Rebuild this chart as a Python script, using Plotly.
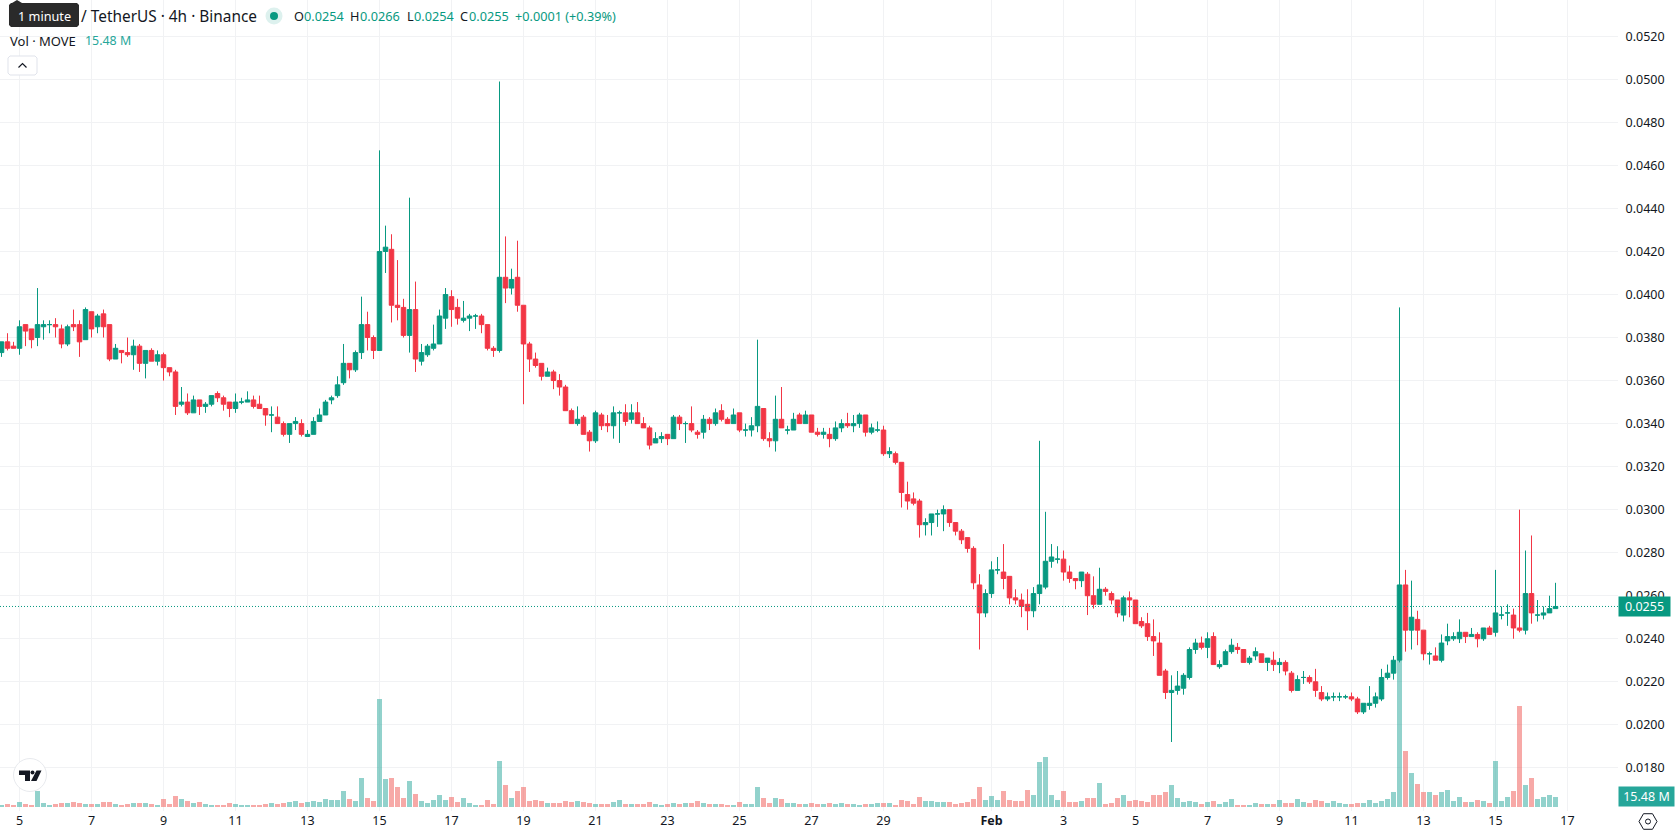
import numpy as np
import pandas as pd
import plotly.graph_objects as go

# Four-hour candles, Jan 4 12:00 to Feb 16 16:00, prices in ticks of 0.0001
TICK = 0.0001
open_ticks = [
    373,378,376,375,386,384,380,385,386,386,
    384,377,386,386,379,392,385,391,386,370,
    374,373,372,376,368,374,369,372,366,364,
    349,350,345,351,348,349,354,352,350,347,
    350,350,351,349,347,344,343,340,335,340,
    340,334,335,341,344,351,353,359,368,365,
    373,386,380,374,420,421,395,394,381,393,
    369,372,375,377,389,399,394,388,389,390,
    390,386,375,374,408,403,408,395,377,370,
    368,362,364,360,357,346,340,343,336,332,
    344,340,339,345,345,342,345,340,338,331,
    333,335,333,343,340,340,336,336,342,340,
    346,342,340,345,337,337,339,347,333,332,
    342,337,337,344,340,344,336,335,335,333,
    338,340,339,340,344,336,337,337,326,326,
    322,307,305,304,293,294,298,298,300,294,
    290,287,282,265,252,261,272,271,269,259,
    258,256,253,261,264,276,277,277,271,268,
    267,270,260,256,263,261,258,251,259,258,
    248,247,241,238,225,215,216,217,222,235,
    238,236,241,227,228,234,236,235,229,232,
    233,229,230,228,229,224,216,222,222,220,
    215,212,213,213,213,213,212,206,209,210,
    212,222,224,230,265,244,249,244,233,232,
    230,239,240,240,243,241,242,240,245,243,
    251,252,251,245,244,261,251,251,252,254,
]
close_ticks = [
    378,375,375,385,383,379,386,386,386,385,
    377,385,385,378,393,384,390,385,370,375,
    373,372,376,368,374,369,372,366,364,348,
    350,345,351,348,349,353,352,349,347,350,
    350,351,348,347,344,344,340,335,340,341,
    335,335,341,344,350,352,358,368,365,373,
    386,380,374,420,422,395,394,381,393,370,
    373,376,377,390,400,393,389,389,390,390,
    386,375,374,408,403,407,395,377,370,367,
    362,364,360,357,346,340,342,335,332,345,
    339,339,345,345,341,345,340,338,330,333,
    334,333,343,340,340,337,335,342,340,345,
    342,340,344,337,337,339,348,333,332,342,
    338,337,342,340,344,336,335,336,333,338,
    340,339,340,344,336,338,337,326,327,322,
    308,304,303,293,294,298,298,300,294,290,
    286,282,266,252,261,272,272,268,259,258,
    255,253,261,265,276,278,277,271,268,267,
    271,260,256,263,262,258,252,259,258,247,
    246,241,239,223,215,216,218,223,235,238,
    236,240,228,228,234,237,235,229,231,234,
    229,231,228,229,225,216,221,222,220,216,
    212,213,213,213,213,212,206,210,210,213,
    222,224,230,265,244,250,244,233,233,230,
    238,241,241,243,241,242,240,245,242,252,
    251,252,245,244,261,252,251,252,254,255,
]
high_ticks = [
    378,382,378,388,386,384,403,388,388,389,
    386,386,393,388,394,392,391,393,386,377,
    374,380,379,377,374,375,374,373,366,365,
    357,354,353,351,350,353,355,353,350,354,
    352,355,353,353,347,348,348,341,340,343,
    342,337,343,347,351,353,362,377,368,374,
    399,392,381,467,432,428,416,398,445,406,
    377,377,386,393,403,402,398,397,391,391,
    391,386,376,499,427,412,425,395,378,373,
    368,366,365,363,358,347,348,344,337,346,
    345,344,348,346,349,349,350,343,339,336,
    336,335,344,344,341,348,337,344,343,347,
    349,343,347,345,340,343,379,347,336,353,
    357,339,345,345,346,344,338,338,338,341,
    342,345,344,345,344,340,341,339,329,327,
    322,313,308,305,296,298,300,302,300,294,
    291,287,283,270,263,276,278,284,269,263,
    261,263,264,332,299,284,283,281,274,268,
    271,271,269,273,264,262,258,260,262,258,
    250,252,249,243,226,223,225,224,236,240,
    241,243,243,230,235,240,238,235,232,236,
    233,231,234,231,230,225,223,225,223,226,
    218,215,215,215,214,215,213,210,218,215,
    226,228,232,394,272,267,253,244,234,236,
    242,247,243,249,243,245,243,245,246,272,
    255,256,254,300,281,288,258,255,260,266,
]
low_ticks = [
    371,374,375,372,376,375,376,379,382,380,
    375,376,383,371,379,380,382,380,369,370,
    368,371,365,364,361,369,367,360,362,344,
    348,344,345,344,345,348,350,346,343,345,
    349,350,347,347,339,336,340,334,331,337,
    334,334,335,341,344,349,352,358,361,364,
    370,374,370,374,410,387,388,380,373,364,
    367,371,374,377,384,385,386,387,383,384,
    382,374,371,373,396,400,392,349,364,366,
    360,362,356,353,346,340,339,335,327,331,
    337,336,333,331,339,340,340,338,328,331,
    331,330,333,337,331,336,333,333,337,339,
    341,340,340,336,334,334,336,332,329,327,
    338,335,337,340,340,336,334,333,329,332,
    336,338,336,338,334,335,336,325,324,321,
    301,300,302,287,288,288,292,290,292,288,
    284,280,263,235,250,259,270,263,256,256,
    250,244,250,256,263,273,275,267,266,263,
    264,251,254,256,260,256,250,248,250,247,
    245,239,232,223,212,192,214,214,221,233,
    235,231,228,226,228,233,233,229,228,230,
    229,225,225,224,223,215,216,219,219,213,
    211,211,211,211,212,211,205,205,207,208,
    211,221,221,229,234,235,237,230,228,230,
    229,237,239,238,238,241,236,239,242,241,
    249,246,240,243,242,247,248,249,252,254,
]
# Traded volume per candle, in millions of MOVE
volume_m = [
    3,4.5,3,7.5,4.5,3,24,6,3,4.5,
    6,6,7.5,6,4.5,4.5,4.5,7.5,7.5,4.5,
    3,4.5,6,6,6,4.5,3,12,4.5,16.5,
    12,9,6,7.5,4.5,3,3,3,6,4.5,
    3,3,3,3,4.5,6,4.5,6,7.5,9,
    6,7.5,9,7.5,12,10.5,10.5,24,12,9,
    43.5,13.5,9,162,42,43.5,30,13.5,39,19.5,
    9,6,10.5,18,10.5,15,7.5,13.5,6,3,
    3,10.5,4.5,69,33,13.5,24,30,9,10.5,
    9,6,6,6,9,7.5,9,7.5,6,4.5,
    4.5,4.5,7.5,10.5,4.5,4.5,4.5,4.5,7.5,4.5,
    3,4.5,6,4.5,6,6,9,6,4.5,4.5,
    4.5,3,3,7.5,4.5,4.5,30,13.5,6,13.5,
    12,6,6,4.5,4.5,6,4.5,4.5,6,4.5,
    6,4.5,4.5,3,4.5,4.5,6,6,6,3,
    10.5,9,4.5,15,9,9,7.5,7.5,7.5,4.5,
    6,7.5,12,30,10.5,16.5,10.5,24,10.5,9,
    9,25.5,18,67.5,75,18,10.5,24,7.5,7.5,
    9,13.5,13.5,36,4.5,6,13.5,18,9,10.5,
    9,7.5,18,18,22.5,33,13.5,7.5,9,7.5,
    4.5,7.5,9,4.5,7.5,12,3,3,3,6,
    4.5,4.5,4.5,10.5,6,6,12,7.5,6,10.5,
    9,6,9,6,4.5,4.5,6,6,10.5,6,
    9,12,22.5,219,84,51,34.5,22.5,22.5,18,
    22.5,25.5,9,15,7.5,7.5,10.5,9,6,69,
    9,15,24,151.5,33,43.5,12,15,18,15.48,
]
price_ticks = [round(0.0180 + 0.0020 * i, 4) for i in range(18)]
day_ticks = ["2025-01-05", "2025-01-07", "2025-01-09", "2025-01-11", "2025-01-13",
             "2025-01-15", "2025-01-17", "2025-01-19", "2025-01-21", "2025-01-23",
             "2025-01-25", "2025-01-27", "2025-01-29", "2025-02-01", "2025-02-03",
             "2025-02-05", "2025-02-07", "2025-02-09", "2025-02-11", "2025-02-13",
             "2025-02-15", "2025-02-17"]
day_labels = ["5", "7", "9", "11", "13", "15", "17", "19", "21", "23", "25", "27", "29",
              "<b>Feb</b>", "3", "5", "7", "9", "11", "13", "15", "17"]
LAST_PRICE = 0.0255
LAST_VOLUME = 15.48

UP, DOWN = "#089981", "#F23645"
UP_VOL, DOWN_VOL = "rgba(38,166,154,0.5)", "rgba(239,83,80,0.5)"
GRID = "#F1F2F4"
INK = "#131722"
FONT = "Noto Sans"

W, H = 1678, 835
PLOT_W, PLOT_H = 1618, 811

dates = pd.date_range("2025-01-04 12:00", periods=len(open_ticks), freq="4h")
o = np.array(open_ticks, float)
c = np.array(close_ticks, float)
# A flat candle counts as a rising one
c_drawn = np.where(c == o, o + 0.01, c)
vol_colors = [UP_VOL if cc >= oo else DOWN_VOL for oo, cc in zip(o, c)]

# One candle slot is 6 px and lasts 4 h, so 1 px is 40 minutes
x0 = pd.Timestamp("2025-01-05") - pd.Timedelta(minutes=40 * 19.5)
x1 = x0 + pd.Timedelta(minutes=40 * PLOT_W)

price_per_px = 0.0020 / 43.03
price_top = 0.04 + 294.5 * price_per_px
price_bottom = 0.04 - (PLOT_H - 294.5) * price_per_px
vol_per_px = 1.5
vol_base_y = 807


def px(x):
    return x / PLOT_W


def py(y):
    return 1 - y / PLOT_H


fig = go.Figure()
fig.add_bar(
    x=dates, y=volume_m, marker=dict(color=vol_colors, line_width=0),
    width=40 * 5 * 60000, yaxis="y", showlegend=False,
)
fig.add_candlestick(
    x=dates, open=o * TICK, high=np.array(high_ticks) * TICK,
    low=np.array(low_ticks) * TICK, close=c_drawn * TICK, yaxis="y2",
    increasing=dict(line=dict(color=UP, width=1), fillcolor=UP),
    decreasing=dict(line=dict(color=DOWN, width=1), fillcolor=DOWN),
    whiskerwidth=0, showlegend=False,
)


def label(text, x, y, size=12.7, color=INK, **kw):
    return dict(
        text=text, x=px(x), y=py(y), xref="paper", yref="paper", showarrow=False,
        xanchor=kw.pop("xanchor", "left"), yanchor="middle",
        font=dict(family=FONT, size=size, color=color), **kw,
    )


annotations = [
    label("/ TetherUS · 4h · Binance", 79, 16, size=15.4),
    label("O", 292, 16), label("0.0254", 302, 16, color=UP),
    label("H", 348, 16), label("0.0266", 358, 16, color=UP),
    label("L", 405, 16), label("0.0254", 412, 16, color=UP),
    label("C", 458, 16), label("0.0255", 467, 16, color=UP),
    label("+0.0001 (+0.39%)", 513, 16, color=UP),
    label("Vol · MOVE", 8, 40.5, size=13),
    label("15.48 M", 83, 40.5, size=12.4, color="#26A69A"),
    label("1 minute", 44, 15.5, color="#FFFFFF", xanchor="center"),
    dict(text="0.0255", x=1, y=LAST_PRICE, xref="paper", yref="y2", showarrow=False,
         xanchor="left", yanchor="middle", width=49, height=17, bgcolor=UP,
         font=dict(family=FONT, size=12.5, color="#FFFFFF")),
    dict(text="15.48 M", x=1, y=LAST_VOLUME, xref="paper", yref="y", showarrow=False,
         xanchor="left", yanchor="bottom", width=53, height=17, bgcolor="#26A69A",
         yshift=-10, font=dict(family=FONT, size=12.5, color="#FFFFFF")),
]


def paper_shape(path, **kw):
    return dict(type="path", path=path, xref="paper", yref="paper", layer="above", **kw)


def poly(points):
    return "M " + " L ".join(f"{px(a):.5f} {py(b):.5f}" for a, b in points) + " Z"


def circle(cx, cy, r, **kw):
    return dict(type="circle", xref="paper", yref="paper", layer="above",
                x0=px(cx - r), x1=px(cx + r), y0=py(cy + r), y1=py(cy - r), **kw)


hexagon = [(1648 + 9 * np.cos(a), 821.5 + 9 * np.sin(a)) for a in np.radians(range(0, 360, 60))]
no_line = dict(width=0)
shapes = [
    # Last-price marker line
    dict(type="line", xref="paper", yref="y2", x0=0, x1=1, y0=LAST_PRICE, y1=LAST_PRICE,
         line=dict(color=UP, width=1, dash="1px,2px"), layer="above"),
    # Tooltip body and pointer
    paper_shape(poly([(11, 3), (77, 3), (79, 5), (79, 25), (77, 27), (11, 27), (9, 25), (9, 5)]),
                fillcolor="#2A2A2A", line=no_line),
    paper_shape(poly([(12, 3), (17, 0), (22, 3)]), fillcolor="#2A2A2A", line=no_line),
    # Status dot with halo
    circle(274, 16, 8.5, fillcolor="#DDF1EE", line=no_line),
    circle(274, 16, 4, fillcolor=UP, line=no_line),
    # Collapse button
    paper_shape(poly([(10, 56), (35, 56), (37, 58), (37, 73), (35, 75), (10, 75), (8, 73), (8, 58)]),
                fillcolor="#FFFFFF", line=dict(color="#E0E3EB", width=1)),
    paper_shape(f"M {px(18.5):.5f} {py(67.5):.5f} L {px(22.5):.5f} {py(63.5):.5f} "
                f"L {px(26.5):.5f} {py(67.5):.5f}", line=dict(color=INK, width=1.2)),
    # Round logo badge
    circle(30, 775, 16.5, fillcolor="#FFFFFF", line=dict(color="#E8EAEE", width=1)),
    paper_shape(poly([(19, 770.5), (30, 770.5), (30, 781), (25, 781), (25, 775), (19, 775)]),
                fillcolor="#131722", line=no_line),
    circle(32.5, 772.5, 2, fillcolor="#131722", line=no_line),
    paper_shape(poly([(36.5, 770.5), (41.5, 770.5), (36.5, 781), (31, 781)]),
                fillcolor="#131722", line=no_line),
    # Settings gear at the axis corner
    paper_shape(poly(hexagon), line=dict(color=INK, width=1)),
    circle(1648, 821.5, 2.5, line=dict(color=INK, width=1)),
]

fig.update_layout(
    width=W, height=H, autosize=False,
    margin=dict(l=0, r=W - PLOT_W, t=0, b=H - PLOT_H, pad=0),
    paper_bgcolor="#FFFFFF", plot_bgcolor="#FFFFFF",
    boxgap=0.25, boxgroupgap=0, bargap=0, hovermode=False,
    annotations=annotations, shapes=shapes,
    xaxis=dict(
        type="date", range=[x0, x1], rangeslider=dict(visible=False),
        tickmode="array", tickvals=day_ticks, ticktext=day_labels,
        showgrid=True, gridcolor=GRID, gridwidth=1, zeroline=False, showline=False,
        ticks="", tickfont=dict(family=FONT, size=12.5, color=INK), tickangle=0,
    ),
    yaxis=dict(
        range=[(vol_base_y - PLOT_H) * vol_per_px, vol_base_y * vol_per_px],
        visible=False, fixedrange=True,
    ),
    yaxis2=dict(
        overlaying="y", side="right", anchor="x", range=[price_bottom, price_top],
        tickmode="array", tickvals=price_ticks, tickformat=".4f",
        showgrid=True, gridcolor=GRID, gridwidth=1, zeroline=False, showline=False,
        ticks="outside", ticklen=4, tickcolor="rgba(0,0,0,0)",
        tickfont=dict(family=FONT, size=12.5, color=INK),
    ),
)

fig.write_html("out.html")
